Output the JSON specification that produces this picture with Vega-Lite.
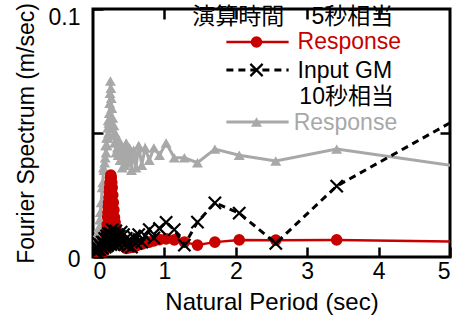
{
  "$schema": "https://vega.github.io/schema/vega-lite/v6.json",
  "width": 357,
  "height": 248,
  "autosize": {"type": "none"},
  "padding": {"left": 93, "top": 9, "right": 18, "bottom": 66},
  "background": "white",
  "config": {
    "font": "Liberation Sans, Noto Sans CJK JP",
    "view": {"stroke": "black", "strokeWidth": 3},
    "axis": {"domain": false, "tickColor": "black", "tickWidth": 2.5, "labelColor": "black", "titleColor": "black", "labelFont": "Liberation Sans", "titleFont": "Liberation Sans", "titleFontWeight": "normal", "grid": false}
  },
  "datasets": {
    "series": [
      {"s": "g", "g": "d", "T": 5.12, "v": 0.0365},
      {"s": "g", "g": "d", "T": 3.413, "v": 0.0435},
      {"s": "g", "g": "d", "T": 2.56, "v": 0.0387},
      {"s": "g", "g": "d", "T": 2.048, "v": 0.041},
      {"s": "g", "g": "d", "T": 1.707, "v": 0.0435},
      {"s": "g", "g": "d", "T": 1.463, "v": 0.038},
      {"s": "g", "g": "d", "T": 1.28, "v": 0.040},
      {"s": "g", "g": "d", "T": 1.138, "v": 0.040},
      {"s": "g", "g": "d", "T": 1.024, "v": 0.046},
      {"s": "g", "g": "d", "T": 0.931, "v": 0.041},
      {"s": "g", "g": "d", "T": 0.853, "v": 0.044},
      {"s": "g", "g": "d", "T": 0.788, "v": 0.039},
      {"s": "g", "g": "d", "T": 0.731, "v": 0.044},
      {"s": "g", "g": "d", "T": 0.683, "v": 0.037},
      {"s": "g", "g": "d", "T": 0.64, "v": 0.045},
      {"s": "g", "g": "d", "T": 0.602, "v": 0.036},
      {"s": "g", "g": "d", "T": 0.569, "v": 0.043},
      {"s": "g", "g": "d", "T": 0.539, "v": 0.035},
      {"s": "g", "g": "d", "T": 0.512, "v": 0.044},
      {"s": "g", "g": "d", "T": 0.488, "v": 0.038},
      {"s": "g", "g": "d", "T": 0.465, "v": 0.046},
      {"s": "g", "g": "d", "T": 0.445, "v": 0.037},
      {"s": "g", "g": "d", "T": 0.427, "v": 0.042},
      {"s": "g", "g": "d", "T": 0.41, "v": 0.036},
      {"s": "g", "g": "d", "T": 0.394, "v": 0.045},
      {"s": "g", "g": "d", "T": 0.379, "v": 0.039},
      {"s": "g", "g": "d", "T": 0.366, "v": 0.047},
      {"s": "g", "g": "d", "T": 0.353, "v": 0.041},
      {"s": "g", "g": "d", "T": 0.341, "v": 0.044},
      {"s": "g", "g": "d", "T": 0.33, "v": 0.047},
      {"s": "g", "g": "d", "T": 0.32, "v": 0.042},
      {"s": "g", "g": "d", "T": 0.31, "v": 0.05},
      {"s": "g", "g": "d", "T": 0.301, "v": 0.046},
      {"s": "g", "g": "d", "T": 0.293, "v": 0.053},
      {"s": "g", "g": "d", "T": 0.284, "v": 0.049},
      {"s": "g", "g": "d", "T": 0.277, "v": 0.056},
      {"s": "g", "g": "d", "T": 0.269, "v": 0.052},
      {"s": "g", "g": "d", "T": 0.263, "v": 0.06},
      {"s": "g", "g": "d", "T": 0.256, "v": 0.064},
      {"s": "g", "g": "d", "T": 0.25, "v": 0.068},
      {"s": "g", "g": "d", "T": 0.244, "v": 0.071},
      {"s": "g", "g": "d", "T": 0.238, "v": 0.066},
      {"s": "g", "g": "d", "T": 0.233, "v": 0.062},
      {"s": "g", "g": "d", "T": 0.228, "v": 0.058},
      {"s": "g", "g": "d", "T": 0.223, "v": 0.054},
      {"s": "g", "g": "d", "T": 0.218, "v": 0.05},
      {"s": "g", "g": "d", "T": 0.213, "v": 0.055},
      {"s": "g", "g": "d", "T": 0.209, "v": 0.048},
      {"s": "g", "g": "d", "T": 0.205, "v": 0.052},
      {"s": "g", "g": "d", "T": 0.197, "v": 0.045},
      {"s": "g", "g": "d", "T": 0.19, "v": 0.048},
      {"s": "g", "g": "d", "T": 0.183, "v": 0.042},
      {"s": "g", "g": "d", "T": 0.177, "v": 0.045},
      {"s": "g", "g": "d", "T": 0.171, "v": 0.04},
      {"s": "g", "g": "d", "T": 0.163, "v": 0.038},
      {"s": "g", "g": "d", "T": 0.155, "v": 0.035},
      {"s": "g", "g": "d", "T": 0.146, "v": 0.036},
      {"s": "g", "g": "d", "T": 0.137, "v": 0.03},
      {"s": "g", "g": "d", "T": 0.128, "v": 0.028},
      {"s": "g", "g": "d", "T": 0.114, "v": 0.022},
      {"s": "g", "g": "d", "T": 0.102, "v": 0.018},
      {"s": "g", "g": "d", "T": 0.093, "v": 0.015},
      {"s": "g", "g": "d", "T": 0.085, "v": 0.012},
      {"s": "g", "g": "d", "T": 0.073, "v": 0.01},
      {"s": "g", "g": "d", "T": 0.064, "v": 0.008},
      {"s": "g", "g": "d", "T": 0.051, "v": 0.006},
      {"s": "g", "g": "d", "T": 0.041, "v": 0.004},
      {"s": "g", "g": "d", "T": 0.034, "v": 0.003},
      {"s": "g", "g": "L", "T": 1.868, "v": 0.0544},
      {"s": "g", "g": "M", "T": 2.29, "v": 0.0544},
      {"s": "g", "g": "L", "T": 2.74, "v": 0.0544},

      {"s": "r", "g": "d", "T": 5.12, "v": 0.0062},
      {"s": "r", "g": "d", "T": 3.413, "v": 0.0069},
      {"s": "r", "g": "d", "T": 2.56, "v": 0.0068},
      {"s": "r", "g": "d", "T": 2.048, "v": 0.0069},
      {"s": "r", "g": "d", "T": 1.707, "v": 0.006},
      {"s": "r", "g": "d", "T": 1.463, "v": 0.0048},
      {"s": "r", "g": "d", "T": 1.28, "v": 0.006},
      {"s": "r", "g": "d", "T": 1.138, "v": 0.0069},
      {"s": "r", "g": "d", "T": 1.024, "v": 0.0073},
      {"s": "r", "g": "d", "T": 0.931, "v": 0.007},
      {"s": "r", "g": "d", "T": 0.853, "v": 0.0065},
      {"s": "r", "g": "d", "T": 0.788, "v": 0.006},
      {"s": "r", "g": "d", "T": 0.731, "v": 0.0058},
      {"s": "r", "g": "d", "T": 0.683, "v": 0.0052},
      {"s": "r", "g": "d", "T": 0.64, "v": 0.005},
      {"s": "r", "g": "d", "T": 0.602, "v": 0.0045},
      {"s": "r", "g": "d", "T": 0.569, "v": 0.004},
      {"s": "r", "g": "d", "T": 0.539, "v": 0.0042},
      {"s": "r", "g": "d", "T": 0.512, "v": 0.0038},
      {"s": "r", "g": "d", "T": 0.488, "v": 0.004},
      {"s": "r", "g": "d", "T": 0.465, "v": 0.0035},
      {"s": "r", "g": "d", "T": 0.445, "v": 0.004},
      {"s": "r", "g": "d", "T": 0.427, "v": 0.0045},
      {"s": "r", "g": "d", "T": 0.41, "v": 0.005},
      {"s": "r", "g": "d", "T": 0.394, "v": 0.0055},
      {"s": "r", "g": "d", "T": 0.379, "v": 0.006},
      {"s": "r", "g": "d", "T": 0.366, "v": 0.0065},
      {"s": "r", "g": "d", "T": 0.353, "v": 0.0075},
      {"s": "r", "g": "d", "T": 0.341, "v": 0.009},
      {"s": "r", "g": "d", "T": 0.33, "v": 0.0105},
      {"s": "r", "g": "d", "T": 0.32, "v": 0.012},
      {"s": "r", "g": "d", "T": 0.31, "v": 0.014},
      {"s": "r", "g": "d", "T": 0.301, "v": 0.016},
      {"s": "r", "g": "d", "T": 0.293, "v": 0.019},
      {"s": "r", "g": "d", "T": 0.284, "v": 0.022},
      {"s": "r", "g": "d", "T": 0.277, "v": 0.025},
      {"s": "r", "g": "d", "T": 0.269, "v": 0.028},
      {"s": "r", "g": "d", "T": 0.263, "v": 0.03},
      {"s": "r", "g": "d", "T": 0.256, "v": 0.032},
      {"s": "r", "g": "d", "T": 0.25, "v": 0.033},
      {"s": "r", "g": "d", "T": 0.244, "v": 0.032},
      {"s": "r", "g": "d", "T": 0.238, "v": 0.03},
      {"s": "r", "g": "d", "T": 0.233, "v": 0.028},
      {"s": "r", "g": "d", "T": 0.228, "v": 0.026},
      {"s": "r", "g": "d", "T": 0.223, "v": 0.024},
      {"s": "r", "g": "d", "T": 0.218, "v": 0.022},
      {"s": "r", "g": "d", "T": 0.213, "v": 0.02},
      {"s": "r", "g": "d", "T": 0.209, "v": 0.018},
      {"s": "r", "g": "d", "T": 0.205, "v": 0.016},
      {"s": "r", "g": "d", "T": 0.197, "v": 0.013},
      {"s": "r", "g": "d", "T": 0.19, "v": 0.01},
      {"s": "r", "g": "d", "T": 0.183, "v": 0.008},
      {"s": "r", "g": "d", "T": 0.177, "v": 0.006},
      {"s": "r", "g": "d", "T": 0.171, "v": 0.005},
      {"s": "r", "g": "d", "T": 0.163, "v": 0.004},
      {"s": "r", "g": "d", "T": 0.155, "v": 0.003},
      {"s": "r", "g": "d", "T": 0.146, "v": 0.003},
      {"s": "r", "g": "d", "T": 0.137, "v": 0.002},
      {"s": "r", "g": "d", "T": 0.128, "v": 0.002},
      {"s": "r", "g": "d", "T": 0.114, "v": 0.0015},
      {"s": "r", "g": "d", "T": 0.102, "v": 0.0015},
      {"s": "r", "g": "d", "T": 0.085, "v": 0.001},
      {"s": "r", "g": "d", "T": 0.064, "v": 0.001},
      {"s": "r", "g": "d", "T": 0.051, "v": 0.001},
      {"s": "r", "g": "d", "T": 0.034, "v": 0.001},
      {"s": "r", "g": "L", "T": 1.868, "v": 0.0867},
      {"s": "r", "g": "M", "T": 2.29, "v": 0.0867},
      {"s": "r", "g": "L", "T": 2.74, "v": 0.0867},

      {"s": "k", "g": "d", "T": 5.12, "v": 0.056},
      {"s": "k", "g": "d", "T": 3.413, "v": 0.0286},
      {"s": "k", "g": "d", "T": 2.56, "v": 0.0055},
      {"s": "k", "g": "d", "T": 2.048, "v": 0.0177},
      {"s": "k", "g": "d", "T": 1.707, "v": 0.0218},
      {"s": "k", "g": "d", "T": 1.463, "v": 0.0141},
      {"s": "k", "g": "d", "T": 1.28, "v": 0.0048},
      {"s": "k", "g": "d", "T": 1.138, "v": 0.011},
      {"s": "k", "g": "d", "T": 1.024, "v": 0.014},
      {"s": "k", "g": "d", "T": 0.931, "v": 0.0115},
      {"s": "k", "g": "d", "T": 0.853, "v": 0.0077},
      {"s": "k", "g": "d", "T": 0.788, "v": 0.011},
      {"s": "k", "g": "d", "T": 0.731, "v": 0.0085},
      {"s": "k", "g": "d", "T": 0.683, "v": 0.006},
      {"s": "k", "g": "d", "T": 0.64, "v": 0.009},
      {"s": "k", "g": "d", "T": 0.602, "v": 0.0055},
      {"s": "k", "g": "d", "T": 0.569, "v": 0.008},
      {"s": "k", "g": "d", "T": 0.539, "v": 0.004},
      {"s": "k", "g": "d", "T": 0.512, "v": 0.007},
      {"s": "k", "g": "d", "T": 0.488, "v": 0.0045},
      {"s": "k", "g": "d", "T": 0.465, "v": 0.0075},
      {"s": "k", "g": "d", "T": 0.445, "v": 0.005},
      {"s": "k", "g": "d", "T": 0.427, "v": 0.009},
      {"s": "k", "g": "d", "T": 0.41, "v": 0.006},
      {"s": "k", "g": "d", "T": 0.394, "v": 0.01},
      {"s": "k", "g": "d", "T": 0.379, "v": 0.0065},
      {"s": "k", "g": "d", "T": 0.366, "v": 0.0085},
      {"s": "k", "g": "d", "T": 0.353, "v": 0.005},
      {"s": "k", "g": "d", "T": 0.341, "v": 0.009},
      {"s": "k", "g": "d", "T": 0.33, "v": 0.006},
      {"s": "k", "g": "d", "T": 0.32, "v": 0.0105},
      {"s": "k", "g": "d", "T": 0.31, "v": 0.007},
      {"s": "k", "g": "d", "T": 0.301, "v": 0.009},
      {"s": "k", "g": "d", "T": 0.293, "v": 0.005},
      {"s": "k", "g": "d", "T": 0.284, "v": 0.0085},
      {"s": "k", "g": "d", "T": 0.277, "v": 0.0065},
      {"s": "k", "g": "d", "T": 0.269, "v": 0.011},
      {"s": "k", "g": "d", "T": 0.263, "v": 0.007},
      {"s": "k", "g": "d", "T": 0.256, "v": 0.009},
      {"s": "k", "g": "d", "T": 0.25, "v": 0.005},
      {"s": "k", "g": "d", "T": 0.244, "v": 0.008},
      {"s": "k", "g": "d", "T": 0.238, "v": 0.006},
      {"s": "k", "g": "d", "T": 0.233, "v": 0.0095},
      {"s": "k", "g": "d", "T": 0.228, "v": 0.0055},
      {"s": "k", "g": "d", "T": 0.223, "v": 0.008},
      {"s": "k", "g": "d", "T": 0.218, "v": 0.006},
      {"s": "k", "g": "d", "T": 0.213, "v": 0.0095},
      {"s": "k", "g": "d", "T": 0.209, "v": 0.005},
      {"s": "k", "g": "d", "T": 0.205, "v": 0.0075},
      {"s": "k", "g": "d", "T": 0.197, "v": 0.0045},
      {"s": "k", "g": "d", "T": 0.19, "v": 0.0085},
      {"s": "k", "g": "d", "T": 0.183, "v": 0.005},
      {"s": "k", "g": "d", "T": 0.177, "v": 0.007},
      {"s": "k", "g": "d", "T": 0.171, "v": 0.004},
      {"s": "k", "g": "d", "T": 0.163, "v": 0.0075},
      {"s": "k", "g": "d", "T": 0.155, "v": 0.005},
      {"s": "k", "g": "d", "T": 0.146, "v": 0.006},
      {"s": "k", "g": "d", "T": 0.137, "v": 0.0035},
      {"s": "k", "g": "d", "T": 0.128, "v": 0.006},
      {"s": "k", "g": "d", "T": 0.114, "v": 0.004},
      {"s": "k", "g": "d", "T": 0.102, "v": 0.005},
      {"s": "k", "g": "d", "T": 0.093, "v": 0.003},
      {"s": "k", "g": "d", "T": 0.085, "v": 0.005},
      {"s": "k", "g": "d", "T": 0.073, "v": 0.003},
      {"s": "k", "g": "d", "T": 0.064, "v": 0.004},
      {"s": "k", "g": "d", "T": 0.051, "v": 0.002},
      {"s": "k", "g": "d", "T": 0.041, "v": 0.003},
      {"s": "k", "g": "d", "T": 0.034, "v": 0.002},
      {"s": "k", "g": "L", "T": 1.868, "v": 0.0754},
      {"s": "k", "g": "M", "T": 2.29, "v": 0.0754},
      {"s": "k", "g": "L", "T": 2.74, "v": 0.0754}
    ],
    "notes": [
      {"s": "k", "T": 1.39, "v": 0.0966, "txt": "演算時間"},
      {"s": "k", "T": 3.06, "v": 0.0966, "txt": "5秒相当"},
      {"s": "r", "T": 2.865, "v": 0.0865, "txt": "Response"},
      {"s": "k", "T": 2.865, "v": 0.0752, "txt": "Input GM"},
      {"s": "k", "T": 2.89, "v": 0.0645, "txt": "10秒相当"},
      {"s": "g", "T": 2.81, "v": 0.0542, "txt": "Response"}
    ]
  },
  "resolve": {"axis": {"x": "independent", "y": "independent"}},
  "layer": [
    {
      "data": {"name": "series"},
      "transform": [{"filter": "datum.s == 'g'"}],
      "mark": {"type": "line", "strokeWidth": 3, "clip": true},
      "encoding": {
        "x": {"field": "T", "type": "quantitative", "scale": {"domain": [0, 5], "nice": false},
          "axis": {"orient": "bottom", "values": [0, 1, 2, 3, 4, 5], "tickSize": -10, "labelPadding": 13, "labelFontSize": 23,
            "title": "Natural Period (sec)", "titleFontSize": 24, "titlePadding": 7}},
        "y": {"field": "v", "type": "quantitative", "scale": {"domain": [0, 0.1], "nice": false},
          "axis": {"orient": "left", "values": [0, 0.05, 0.1], "format": ".2~f", "labelExpr": "datum.value == 0.05 ? '' : datum.label",
            "tickSize": -10, "labelPadding": 23, "labelFontSize": 23,
            "labelOffset": {"condition": {"test": "datum.value > 0.09", "value": 8}, "value": 2},
            "title": "Fourier Spectrum (m/sec)", "titleFontSize": 23, "titlePadding": 10}},
        "detail": {"field": "g"},
        "color": {"field": "s", "type": "nominal", "scale": {"domain": ["r", "k", "g"], "range": ["#c80000", "#000000", "#a8a8a8"]}, "legend": null}
      }
    },
    {
      "data": {"name": "series"},
      "transform": [{"filter": "datum.s == 'g' && datum.g != 'L'"}],
      "mark": {"type": "point", "shape": "triangle-up", "filled": true, "size": 120, "opacity": 1, "clip": true},
      "encoding": {
        "x": {"field": "T", "type": "quantitative",
          "axis": {"orient": "top", "values": [1, 2, 3, 4], "tickSize": -10, "labels": false, "title": null}},
        "y": {"field": "v", "type": "quantitative",
          "axis": {"orient": "right", "values": [0.05], "tickSize": -10, "labels": false, "title": null}},
        "color": {"field": "s", "type": "nominal", "legend": null}
      }
    },
    {
      "data": {"name": "series"},
      "transform": [{"filter": "datum.s == 'r'"}],
      "mark": {"type": "line", "strokeWidth": 2.5, "clip": true},
      "encoding": {
        "x": {"field": "T", "type": "quantitative", "axis": null},
        "y": {"field": "v", "type": "quantitative", "axis": null},
        "detail": {"field": "g"},
        "color": {"field": "s", "type": "nominal", "legend": null}
      }
    },
    {
      "data": {"name": "series"},
      "transform": [{"filter": "datum.s == 'r' && datum.g != 'L'"}],
      "mark": {"type": "point", "shape": "circle", "filled": true, "size": 135, "opacity": 1, "clip": true},
      "encoding": {
        "x": {"field": "T", "type": "quantitative", "axis": null},
        "y": {"field": "v", "type": "quantitative", "axis": null},
        "color": {"field": "s", "type": "nominal", "legend": null}
      }
    },
    {
      "data": {"name": "series"},
      "transform": [{"filter": "datum.s == 'k'"}],
      "mark": {"type": "line", "strokeWidth": 3, "strokeDash": [7, 5], "clip": true},
      "encoding": {
        "x": {"field": "T", "type": "quantitative", "axis": null},
        "y": {"field": "v", "type": "quantitative", "axis": null},
        "detail": {"field": "g"},
        "color": {"field": "s", "type": "nominal", "legend": null}
      }
    },
    {
      "data": {"name": "series"},
      "transform": [{"filter": "datum.s == 'k' && datum.g != 'L'"}],
      "mark": {"type": "point", "shape": "M-1,-1L1,1M1,-1L-1,1", "filled": false, "size": 150, "strokeWidth": 2.2, "opacity": 1, "clip": true},
      "encoding": {
        "x": {"field": "T", "type": "quantitative", "axis": null},
        "y": {"field": "v", "type": "quantitative", "axis": null},
        "color": {"field": "s", "type": "nominal", "legend": null}
      }
    },
    {
      "data": {"name": "notes"},
      "mark": {"type": "text", "align": "left", "baseline": "middle", "fontSize": 23, "font": "Liberation Sans, Noto Sans CJK JP"},
      "encoding": {
        "x": {"field": "T", "type": "quantitative", "axis": null},
        "y": {"field": "v", "type": "quantitative", "axis": null},
        "text": {"field": "txt"},
        "color": {"field": "s", "type": "nominal", "legend": null}
      }
    }
  ]
}
